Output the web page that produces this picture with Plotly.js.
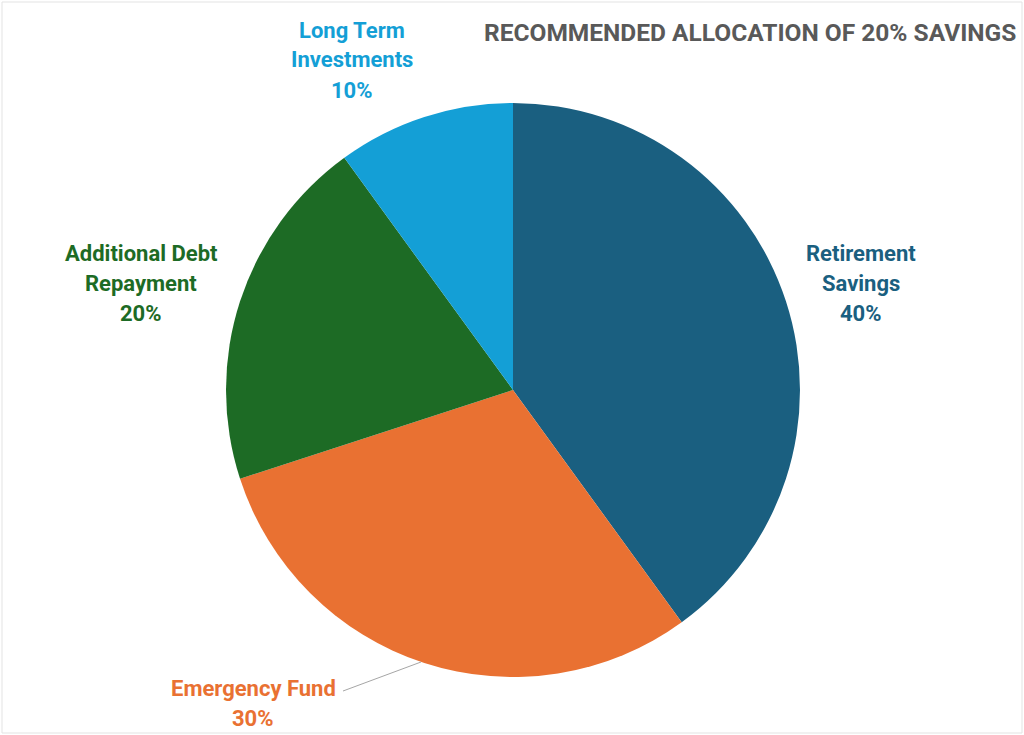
<!DOCTYPE html>
<html><head><meta charset="utf-8">
<script src="https://cdn.plot.ly/plotly-3.0.1.min.js"></script>
<style>html,body{margin:0;padding:0;background:#fff}#chart{width:1024px;height:735px}</style>
</head><body><div id="chart"></div>
<script>
const categories = ["Retirement Savings", "Emergency Fund", "Additional Debt Repayment", "Long Term Investments"];
const labelLines = [["Retirement", "Savings"], ["Emergency Fund"], ["Additional Debt", "Repayment"], ["Long Term", "Investments"]];
const values = [40, 30, 20, 10];
const colors = ["#1A5F80", "#E97132", "#1D6B25", "#149FD6"];
const titleText = "RECOMMENDED ALLOCATION OF 20% SAVINGS";

const W = 1024, H = 735;
const FONT = "Roboto, sans-serif";
// label anchor positions (pixel, first line center y) and line spacing
const labelPos = [[861, 253], [253, 688], [141, 253], [352, 30]];
const lineGap = 30;

const total = values.reduce((a, b) => a + b, 0);
const annotations = [];
categories.forEach((c, i) => {
  const lines = labelLines[i].concat([Math.round(values[i] / total * 100) + "%"]);
  lines.forEach((t, k) => {
    annotations.push({
      xref: "paper", yref: "paper",
      x: labelPos[i][0] / W, y: 1 - (labelPos[i][1] + k * lineGap) / H,
      xanchor: "center", yanchor: "middle", showarrow: false,
      text: "<b>" + t + "</b>",
      font: {family: FONT, size: 22, color: colors[i]}
    });
  });
});
annotations.push({
  xref: "paper", yref: "paper", x: 1018 / W, y: 1 - 33 / H,
  xanchor: "right", yanchor: "middle", showarrow: false,
  text: "<b>" + titleText + "</b>",
  font: {family: FONT, size: 24.5, color: "#595959"}
});

const data = [{
  type: "pie",
  labels: categories,
  values: values,
  marker: {colors: colors, line: {width: 0}},
  sort: false,
  direction: "clockwise",
  rotation: 0,
  textinfo: "none",
  hoverinfo: "label+percent",
  automargin: false,
  domain: {x: [226 / W, 800 / W], y: [(H - 677) / H, (H - 103) / H]},
  showlegend: false
}];

const layout = {
  width: W, height: H,
  margin: {l: 0, r: 0, t: 0, b: 0},
  paper_bgcolor: "#ffffff",
  showlegend: false,
  annotations: annotations,
  shapes: [
    {type: "line", xref: "paper", yref: "paper", x0: 343 / W, y0: 1 - 691 / H, x1: 421 / W, y1: 1 - 662 / H,
     line: {color: "#A6A6A6", width: 1}},
    {type: "rect", xref: "paper", yref: "paper", x0: 2 / W, y0: 2 / H, x1: 1 - 2 / W, y1: 1 - 2 / H,
     line: {color: "#E3E3E3", width: 1}}
  ]
};
Plotly.newPlot("chart", data, layout, {staticPlot: true});
</script></body></html>
